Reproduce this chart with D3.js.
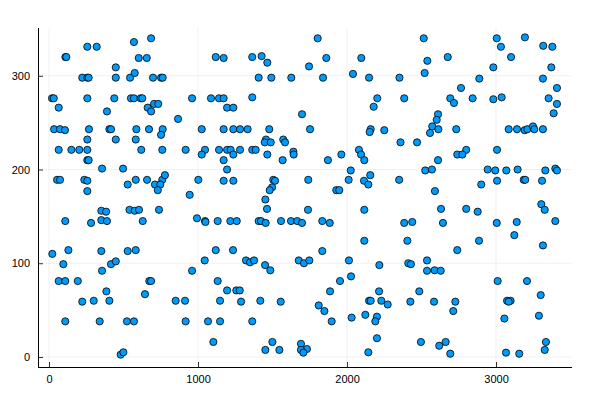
<!DOCTYPE html>
<html><head><meta charset="utf-8">
<script src="https://cdn.jsdelivr.net/npm/d3@7"></script>
<style>body{margin:0;background:#fff}svg{display:block}</style>
</head><body>
<svg id="c" width="600" height="400"></svg>
<script>
const xValues = [257,320,110,116,448,223,257,266,448,544,20,32,257,438,550,65,389,34,74,107,268,405,416,257,448,65,150,203,257,257,266,356,497,54,74,237,257,528,257,
570,685,602,656,1119,575,698,752,763,570,615,626,705,733,662,685,960,1087,1141,866,586,671,763,752,582,1025,619,760,917,1047,1025,1141,582,658,760,778,711,747,730,1002,944,
1172,1364,1427,1465,1745,1407,1492,1626,1172,1364,1195,1237,1698,1172,1237,1282,1333,1478,1752,1456,1448,1488,1572,1584,1195,1219,1282,1364,1387,1237,1465,1640,1642,1172,1568,1195,1172,1237,1505,1517,1497,1481,1740,1452,
1803,1861,2096,2040,1839,2148,2352,2203,2179,2159,2152,2250,2359,2080,2094,2116,1962,1872,2025,2011,2114,2156,2143,2350,1928,1948,
2515,2539,2676,2521,2888,2765,2384,2693,2718,2843,2611,2602,2572,2557,2613,2733,2470,2800,2740,2774,2611,2525,2570,2944,2901,2590,
3005,3194,3033,3317,3378,3101,2982,3371,3315,3409,2982,3038,3353,3409,3387,3085,3141,3192,3210,3248,3257,3315,3007,2995,3069,3145,3331,3398,3409,3007,3186,3196,3309,
351,383,540,109,282,351,389,22,130,351,528,96,416,448,356,65,109,193,385,223,300,405,109,340,523,481,499,
575,604,629,738,993,1047,1050,1132,582,1119,1045,960,673,685,1132,644,850,913,1148,570,917,1067,1148,1103,
1463,1738,1217,1260,1407,1423,1454,1557,1624,1666,1698,1235,1322,1349,1376,1450,1485,1676,1711,1747,1195,1257,1280,1289,1418,1555,1364,1499,1452,1546,1691,1731,1691,1707,
2116,1834,1884,2116,1834,2013,2217,2027,1953,1886,2215,1810,1848,2148,2159,2230,2273,1897,2031,2123,2201,2190,2201,2143,
2631,2800,2877,2384,2438,2644,2405,2886,2740,2411,2429,2537,2537,2588,2629,2485,2425,2584,2727,2713,2496,2619,2662,2693,
3304,3327,3005,3139,3398,3123,3315,3011,3208,3300,3074,3098,3085,3056,3288,3335,3327,3067,3156];
const yValues = [331,331,320,320,309,298,298,298,298,298,276,276,276,276,276,266,262,243,243,242,243,243,243,232,232,221,221,221,221,210,210,201,201,189,189,189,188,184,177,
336,340,319,319,320,303,298,298,298,276,276,276,270,270,266,262,276,276,276,254,243,243,243,237,232,243,221,221,221,221,216,221,189,189,189,194,184,184,178,189,173,
319,320,321,314,310,298,298,298,276,277,266,266,259,243,243,243,243,243,243,232,229,229,232,229,221,221,221,221,221,216,216,219,216,210,210,200,188,188,189,188,181,178,189,168,
340,319,319,302,298,298,298,276,267,243,240,242,229,221,216,210,216,210,199,189,188,194,184,189,178,178,
340,316,320,303,297,287,276,276,271,276,259,253,246,239,243,243,229,221,216,216,210,199,200,200,184,177,
340,341,331,332,331,320,309,309,297,287,275,277,276,270,260,243,243,242,243,246,243,243,221,199,199,200,199,201,199,188,189,189,188,
156,155,157,145,143,146,145,110,114,113,113,99,99,102,92,81,81,81,70,59,60,60,38,38,38,2.5,5,
156,157,145,157,148,145,144,145,114,114,103,92,81,81,81,67,60,60,60,38,38,38,38,16,
158,157,145,145,145,145,143,145,145,145,143,114,103,101,103,98,92.5,103,100,103,71,71,71,59,60,59,38,16,7.5,7.5,14,8.5,7.5,4.6,
157,145,143,124,113,103,98,86,81,70,70,55,49,60,60,60,56,38,42,45,43,38,20,5,
158,158,155,143,144,143,124,124,114,100,99,103,92,92.5,92,70,59,59,59,49,16,12,16,3.5,
163,157,143,144,145,130,119,81,81,66,60,60,59,41,44,16,7.5,4.6,3.5];
const xTicks = [0,1000,2000,3000];
const yTicks = [0,100,200,300];

const svg = d3.select("#c");
const x = d3.scaleLinear().domain([-74, 3510]).range([38, 572]);
const y = d3.scaleLinear().domain([-10.7, 351]).range([367, 28]);
const font = "'Liberation Sans', Arial, sans-serif";

// grid
svg.append("g").selectAll("line").data(xTicks).join("line")
  .attr("x1", d => x(d)).attr("x2", d => x(d)).attr("y1", 28).attr("y2", 367)
  .attr("stroke", "#000").attr("stroke-opacity", 0.1).attr("stroke-width", 0.6);
svg.append("g").selectAll("line").data(yTicks).join("line")
  .attr("y1", d => y(d)).attr("y2", d => y(d)).attr("x1", 38).attr("x2", 572)
  .attr("stroke", "#000").attr("stroke-opacity", 0.1).attr("stroke-width", 0.6);

// axes
const xAxis = d3.axisBottom(x).tickValues(xTicks).tickSize(-5).tickPadding(8).tickFormat(d3.format("d"));
const yAxis = d3.axisLeft(y).tickValues(yTicks).tickSize(-5).tickPadding(8).tickFormat(d3.format("d"));
const gx = svg.append("g").attr("transform", "translate(0,367)").call(xAxis);
const gy = svg.append("g").attr("transform", "translate(38,0)").call(yAxis);
[gx, gy].forEach(g => {
  g.select(".domain").attr("stroke", "#000").attr("stroke-width", 1);
  g.selectAll(".tick line").attr("stroke", "#000").attr("stroke-width", 0.8);
  g.selectAll(".tick text").attr("font-family", font).attr("font-size", 11).attr("fill", "#000");
});
gx.select(".domain").attr("d", "M38,0.5H572");
gy.select(".domain").attr("d", "M0.5,367V28");

// points
const pts = xValues.map((v, i) => ({x: v, y: yValues[i]}));
svg.append("g").selectAll("circle").data(pts).join("circle")
  .attr("cx", d => x(d.x)).attr("cy", d => y(d.y)).attr("r", 3.6)
  .attr("fill", "#009AFA").attr("stroke", "#000").attr("stroke-width", 0.8);
</script>
</body></html>
